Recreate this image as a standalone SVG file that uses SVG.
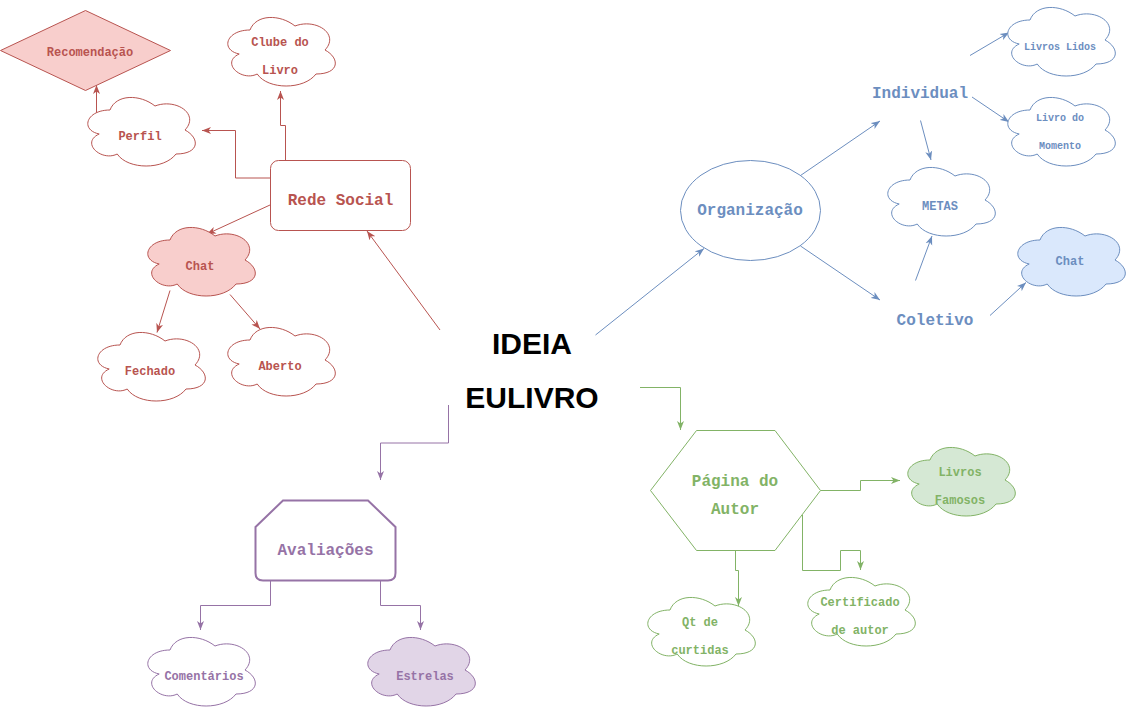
<svg xmlns="http://www.w3.org/2000/svg" xmlns:xlink="http://www.w3.org/1999/xlink" width="1131" height="711" viewBox="0 0 1131 711">
<style>
.t{font-family:"Liberation Mono","DejaVu Sans Mono",monospace;font-weight:bold;text-anchor:middle;dominant-baseline:central;transform:translateY(2px)}
.s10{font-size:10px}.s12{font-size:12px}.s16{font-size:16px}
.red{fill:#b85450}.blue{fill:#6c8ebf}.green{fill:#82b366}.purple{fill:#9673a6}
.main{font-family:"Liberation Sans",Arial,sans-serif;font-weight:bold;font-size:30px;text-anchor:middle;dominant-baseline:central;fill:#000}
.c{fill:none;stroke-width:1}
.cr{stroke:#b85450;marker-end:url(#ar)}
.cb{stroke:#6c8ebf;marker-end:url(#ab)}
.cg{stroke:#82b366;marker-end:url(#ag)}
.cp{stroke:#9673a6;marker-end:url(#ap)}
</style>
<defs>
<path id="cloud" d="M30 20C6 20 0 40 19.2 44C0 52.8 21.6 72 37.2 64C48 80 84 80 96 64C120 64 120 48 105 40C120 24 96 8 75 16C60 4 36 4 30 20Z"/>
<marker id="ar" markerUnits="userSpaceOnUse" markerWidth="10" markerHeight="8" viewBox="0 0 10 8" refX="9" refY="4" orient="auto"><path d="M0 0.5L9 4L0 7.5L2.5 4Z" fill="#b85450"/></marker>
<marker id="ab" markerUnits="userSpaceOnUse" markerWidth="10" markerHeight="8" viewBox="0 0 10 8" refX="9" refY="4" orient="auto"><path d="M0 0.5L9 4L0 7.5L2.5 4Z" fill="#6c8ebf"/></marker>
<marker id="ag" markerUnits="userSpaceOnUse" markerWidth="10" markerHeight="8" viewBox="0 0 10 8" refX="9" refY="4" orient="auto"><path d="M0 0.5L9 4L0 7.5L2.5 4Z" fill="#82b366"/></marker>
<marker id="ap" markerUnits="userSpaceOnUse" markerWidth="10" markerHeight="8" viewBox="0 0 10 8" refX="9" refY="4" orient="auto"><path d="M0 0.5L9 4L0 7.5L2.5 4Z" fill="#9673a6"/></marker>
</defs>
<rect width="1131" height="711" fill="#fff"/>
<g id="connectors">
<path class="c cr" d="M440 330L367 231"/>
<path class="c cr" d="M270 205L207 234"/>
<path class="c cr" d="M270 178H235.5V130.5H202"/>
<path class="c cr" d="M285.5 160V125.5H280.5V91"/>
<path class="c cr" d="M110.5 117.5H96.5V85"/>
<path class="c cr" d="M170 290.5L157 332.5"/>
<path class="c cr" d="M230 294.5L260 329"/>
<path class="c cp" d="M448.5 405V443H380.5V480"/>
<path class="c cp" d="M270.5 580V605.5H200.5V630"/>
<path class="c cp" d="M380.5 580V605.5H420.5V630"/>
<path class="c cb" d="M595.5 335L704 248.5"/>
<path class="c cb" d="M800.5 175.5L880 121"/>
<path class="c cb" d="M800.5 246L880 300"/>
<path class="c cb" d="M970 55.5L1009 32.5"/>
<path class="c cb" d="M972 97L1009 122"/>
<path class="c cb" d="M920.5 120.5L931 160"/>
<path class="c cb" d="M915.5 280.5L932 236"/>
<path class="c cb" d="M990 315.5L1026 282.5"/>
<path class="c cg" d="M640 387.5H680.5V430"/>
<path class="c cg" d="M820.5 490.5H860.5V480.5H900"/>
<path class="c cg" d="M735.5 550V570.5H738.5V606"/>
<path class="c cg" d="M802.5 515V570.5H840.5V550.5H860.5V570"/>
</g>
<g id="main">
<text class="main" x="532" y="343">IDEIA</text>
<text class="main" x="532" y="397">EULIVRO</text>
</g>
<g id="recomendacao">
<path d="M0.5 50.5L85.5 10.5L170.5 50.5L85.5 90.5Z" fill="#f8cecc" stroke="#b85450"/>
<text class="t s12 red" x="90" y="51">Recomendação</text>
</g>
<g id="clube">
<use href="#cloud" x="220" y="10" fill="#fff" stroke="#b85450"/>
<text class="t s12 red" x="280" y="41">Clube do</text>
<text class="t s12 red" x="280" y="69">Livro</text>
</g>
<g id="perfil">
<use href="#cloud" x="80" y="90" fill="#fff" stroke="#b85450"/>
<text class="t s12 red" x="140" y="135">Perfil</text>
</g>
<g id="redesocial">
<rect x="270.5" y="160.5" width="140" height="70" rx="8" fill="#fff" stroke="#b85450"/>
<text class="t s16 red" x="340.5" y="199">Rede Social</text>
</g>
<g id="chat-red">
<use href="#cloud" x="140" y="220" fill="#f8cecc" stroke="#b85450"/>
<text class="t s12 red" x="200" y="265">Chat</text>
</g>
<g id="fechado">
<use href="#cloud" x="90" y="325" fill="#fff" stroke="#b85450"/>
<text class="t s12 red" x="150" y="370">Fechado</text>
</g>
<g id="aberto">
<use href="#cloud" x="220" y="320" fill="#fff" stroke="#b85450"/>
<text class="t s12 red" x="280" y="365">Aberto</text>
</g>
<g id="avaliacoes">
<path d="M255.5 527L283 500.5H368L395.5 527V573Q395.5 580.5 388 580.5H263Q255.5 580.5 255.5 573Z" fill="#fff" stroke="#9673a6" stroke-width="2"/>
<text class="t s16 purple" x="325.5" y="549">Avaliações</text>
</g>
<g id="comentarios">
<use href="#cloud" x="140" y="630" fill="#fff" stroke="#9673a6"/>
<text class="t s12 purple" x="204" y="675">Comentários</text>
</g>
<g id="estrelas">
<use href="#cloud" x="360" y="630" fill="#e1d5e7" stroke="#9673a6"/>
<text class="t s12 purple" x="425" y="675">Estrelas</text>
</g>
<g id="organizacao">
<ellipse cx="750.5" cy="210.5" rx="70" ry="50" fill="#fff" stroke="#6c8ebf"/>
<text class="t s16 blue" x="750" y="209">Organização</text>
</g>
<g id="individual">
<text class="t s16 blue" x="920" y="92">Individual</text>
</g>
<g id="coletivo">
<text class="t s16 blue" x="935" y="319">Coletivo</text>
</g>
<g id="livroslidos">
<use href="#cloud" x="1000" y="0" fill="#fff" stroke="#6c8ebf"/>
<text class="t s10 blue" x="1060" y="45.5">Livros Lidos</text>
</g>
<g id="livromomento">
<use href="#cloud" x="1000" y="90" fill="#fff" stroke="#6c8ebf"/>
<text class="t s10 blue" x="1060" y="116.5">Livro do</text>
<text class="t s10 blue" x="1060" y="144.5">Momento</text>
</g>
<g id="metas">
<use href="#cloud" x="880" y="160" fill="#fff" stroke="#6c8ebf"/>
<text class="t s12 blue" x="940" y="205">METAS</text>
</g>
<g id="chat-blue">
<use href="#cloud" x="1010" y="220" fill="#dae8fc" stroke="#6c8ebf"/>
<text class="t s12 blue" x="1070" y="260">Chat</text>
</g>
<g id="pagina">
<path d="M650.5 490.5L696.5 430.5H775L820.5 490.5L775 550.5H696.5Z" fill="#fff" stroke="#82b366"/>
<text class="t s16 green" x="735" y="480">Página do</text>
<text class="t s16 green" x="735" y="508">Autor</text>
</g>
<g id="livrosfamosos">
<use href="#cloud" x="900" y="440" fill="#d5e8d4" stroke="#82b366"/>
<text class="t s12 green" x="960" y="471">Livros</text>
<text class="t s12 green" x="960" y="499">Famosos</text>
</g>
<g id="curtidas">
<use href="#cloud" x="640" y="590" fill="#fff" stroke="#82b366"/>
<text class="t s12 green" x="700" y="621">Qt de</text>
<text class="t s12 green" x="700" y="649">curtidas</text>
</g>
<g id="certificado">
<use href="#cloud" x="800" y="570" fill="#fff" stroke="#82b366"/>
<text class="t s12 green" x="860" y="601">Certificado</text>
<text class="t s12 green" x="860" y="629">de autor</text>
</g>
</svg>
